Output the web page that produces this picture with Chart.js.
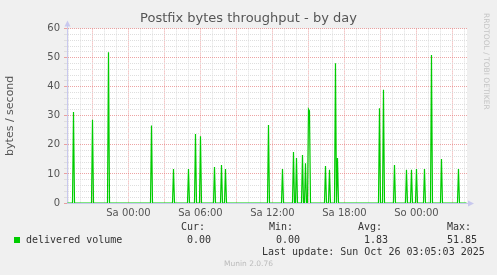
<!DOCTYPE html>
<html>
<head>
<meta charset="utf-8">
<script src="https://cdn.jsdelivr.net/npm/chart.js@4/dist/chart.umd.min.js"></script>
<style>
  html, body { margin: 0; padding: 0; background: #f0f0f0; }
  #wrap { position: relative; width: 497px; height: 275px; }
  #chart { position: absolute; left: 0; top: 0; }
  .t { position: absolute; font-family: "DejaVu Sans Mono", monospace; font-size: 10px; line-height: 12px; color: #333; white-space: pre; }
  .sq { position: absolute; left: 14px; top: 237px; width: 6px; height: 6px; background: #00cc00; }
  .munin { position: absolute; left: 0; top: 259px; width: 497px; text-align: center; font-family: "DejaVu Sans", sans-serif; font-size: 7.5px; line-height: 10px; color: #bbb; }
  .rrd { position: absolute; left: 482px; top: 13px; writing-mode: vertical-rl; font-family: "DejaVu Sans", sans-serif; font-size: 7.5px; color: #c4c4c4; }
</style>
</head>
<body>
<div id="wrap">
  <canvas id="chart" width="497" height="275"></canvas>
  <div class="rrd">RRDTOOL / TOBI OETIKER</div>
  <div class="t" style="left:181px;top:221px">Cur:</div>
  <div class="t" style="left:269px;top:221px">Min:</div>
  <div class="t" style="left:358px;top:221px">Avg:</div>
  <div class="t" style="left:447px;top:221px">Max:</div>
  <div class="sq"></div>
  <div class="t" style="left:26px;top:234px">delivered volume</div>
  <div class="t" style="left:187px;top:234px">0.00</div>
  <div class="t" style="left:276px;top:234px">0.00</div>
  <div class="t" style="left:364px;top:234px">1.83</div>
  <div class="t" style="left:447px;top:234px">51.85</div>
  <div class="t" style="left:262px;top:246px">Last update: Sun Oct 26 03:05:03 2025</div>
  <div class="munin">Munin 2.0.76</div>
</div>
<script>
// hours relative to Sa 00:00, one munin sample = 5 minutes
var xMin = -5.125;
var xMax = 28.21;
var dayNames = ['Fr', 'Sa', 'So'];

var spikeHours = [-4.58, -3.0, -1.67, 1.92, 3.75, 5.0, 5.58, 6.0, 7.17, 7.75, 8.08,
  11.67, 12.83, 13.75, 14.0, 14.5, 14.75, 15.0, 15.08, 16.42, 16.75, 17.25, 17.42,
  20.92, 21.25, 22.17, 23.17, 23.58, 24.0, 24.67, 25.25, 26.08, 27.5];
var spikeValues = [31.3, 28.6, 51.85, 26.7, 11.7, 11.7, 23.7, 23.0, 12.4, 13.1, 11.7,
  26.8, 11.7, 17.5, 15.5, 16.5, 13.7, 32.3, 31.7, 12.7, 11.4, 48.1, 15.5,
  32.6, 39.0, 13.1, 11.4, 11.4, 11.7, 11.7, 50.9, 15.1, 11.7];

var step = 5;
var spikeAt = {};
spikeHours.forEach(function (h, i) { spikeAt[Math.round(h * 60 / step)] = spikeValues[i]; });
var points = [];
for (var k = Math.ceil(xMin * 60 / step); k <= Math.floor(xMax * 60 / step); k++) {
  points.push({ x: k * step / 60, y: spikeAt[k] || 0 });
}

var major = 'rgba(230,125,125,0.7)';
var minor = '#dedede';
var axisCol = '#c8c8ee';
var tickFont = { family: 'DejaVu Sans', size: 10 };

var plotBg = {
  id: 'plotBg',
  beforeDraw: function (chart) {
    var a = chart.chartArea, ctx = chart.ctx;
    ctx.save();
    ctx.fillStyle = '#ffffff';
    ctx.fillRect(a.left, a.top, a.right - a.left, a.bottom - a.top);
    ctx.restore();
  },
  afterDraw: function (chart) {
    var a = chart.chartArea, ctx = chart.ctx;
    ctx.save();
    ctx.strokeStyle = axisCol;
    ctx.fillStyle = axisCol;
    ctx.lineWidth = 1;
    ctx.beginPath();
    ctx.moveTo(a.left + 0.5, a.top); ctx.lineTo(a.left + 0.5, a.top - 4);
    ctx.moveTo(a.right, a.bottom + 0.5); ctx.lineTo(a.right + 2, a.bottom + 0.5);
    ctx.stroke();
    ctx.beginPath();
    ctx.moveTo(a.left - 2.5, a.top - 2); ctx.lineTo(a.left + 3.5, a.top - 2); ctx.lineTo(a.left + 0.5, a.top - 8);
    ctx.fill();
    ctx.beginPath();
    ctx.moveTo(a.right + 1, a.bottom - 2.5); ctx.lineTo(a.right + 1, a.bottom + 3.5); ctx.lineTo(a.right + 7, a.bottom + 0.5);
    ctx.fill();
    ctx.restore();
  }
};

new Chart(document.getElementById('chart').getContext('2d'), {
  type: 'line',
  data: {
    datasets: [{
      label: 'delivered volume',
      data: points,
      borderColor: '#00cc00',
      borderWidth: 1.2,
      pointRadius: 0,
      tension: 0,
      fill: false
    }]
  },
  options: {
    responsive: false,
    animation: false,
    devicePixelRatio: 1,
    layout: { padding: { left: 0, right: 0, top: 0, bottom: 52 } },
    plugins: {
      legend: { display: false },
      tooltip: { enabled: false },
      title: {
        display: true,
        text: 'Postfix bytes throughput - by day',
        color: '#555',
        font: { family: 'DejaVu Sans', size: 13, weight: 'normal' },
        padding: { top: 11, bottom: 2 }
      }
    },
    scales: {
      x: {
        type: 'linear',
        min: xMin,
        max: xMax,
        afterFit: function (s) { s.height = 20; },
        ticks: {
          stepSize: 1,
          autoSkip: false,
          maxRotation: 0,
          includeBounds: false,
          padding: 4,
          color: '#555',
          font: tickFont,
          callback: function (v) {
            var h = Math.round(v);
            if (h % 6 !== 0) return '';
            var hh = ((h % 24) + 24) % 24;
            return dayNames[Math.floor(h / 24) + 1] + ' ' + (hh < 10 ? '0' : '') + hh + ':00';
          }
        },
        grid: {
          drawTicks: false,
          color: function (c) { return Math.round(c.tick.value) % 3 === 0 ? major : minor; }
        },
        border: { color: axisCol, dash: [1, 1] }
      },
      y: {
        min: 0,
        max: 60,
        afterFit: function (s) { s.width = 67; },
        ticks: {
          stepSize: 2,
          autoSkip: false,
          padding: 4,
          color: '#555',
          font: tickFont,
          callback: function (v) { return v % 10 === 0 ? v : ''; }
        },
        grid: {
          tickLength: 3,
          color: function (c) { return c.tick.value % 10 === 0 ? major : minor; },
          tickColor: function (c) { return c.tick.value % 10 === 0 ? major : minor; }
        },
        border: { color: axisCol, dash: [1, 1] },
        title: {
          display: true,
          text: 'bytes / second',
          color: '#555',
          font: { family: 'DejaVu Sans', size: 11 },
          padding: { top: 4, bottom: 0 }
        }
      },
      yr: {
        type: 'linear',
        position: 'right',
        afterFit: function (s) { s.width = 30; },
        ticks: { display: false },
        grid: { drawOnChartArea: false, drawTicks: false },
        border: { display: false }
      }
    }
  },
  plugins: [plotBg]
});
</script>
</body>
</html>
